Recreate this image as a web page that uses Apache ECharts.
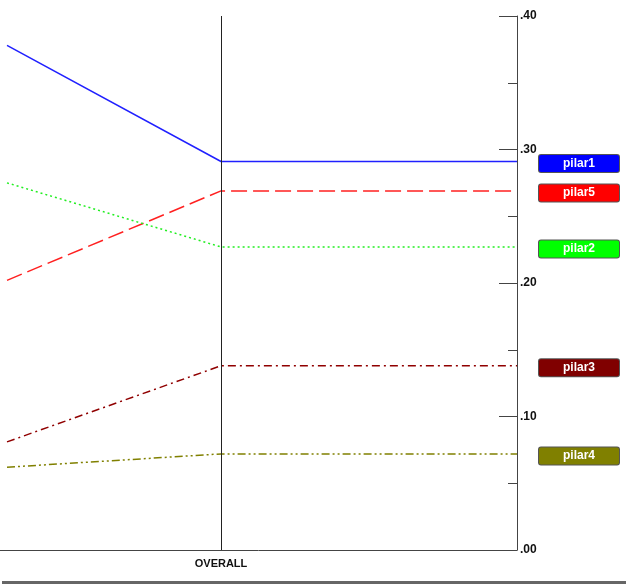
<!DOCTYPE html>
<html>
<head>
<meta charset="utf-8">
<script src="https://cdn.jsdelivr.net/npm/echarts@6/dist/echarts.min.js"></script>
<style>html,body{margin:0;padding:0;background:#fff}#c{width:629px;height:584px}</style>
</head>
<body>
<div id="c"></div>
<script>
const seriesNames = ['pilar1', 'pilar5', 'pilar2', 'pilar3', 'pilar4'];
const startValues = [0.378, 0.202, 0.275, 0.081, 0.062];
const overallValues = [0.291, 0.269, 0.227, 0.138, 0.072];
const stageX = [0, 1, 2.383];          // previous stage, OVERALL, right edge
const stageLabels = ['', 'OVERALL', ''];

const colors = ['#2020ff', '#ff2020', '#22ee22', '#900000', '#808000'];
const boxColors = ['#0000ff', '#ff0000', '#00ff00', '#800000', '#808000'];
const dashes = [null, [16, 6], [2, 3], [8, 4, 2, 4], [8, 3, 2, 3, 2, 3]];

const series = seriesNames.map((name, i) => ({
  name: name,
  type: 'line',
  symbol: 'none',
  silent: true,
  clip: false,
  animation: false,
  itemStyle: { color: colors[i] },
  lineStyle: { color: colors[i], width: 1.5, type: dashes[i] || 'solid' },
  endLabel: {
    show: true,
    distance: 62,
    offset: [0, 2],
    formatter: name,
    width: 80,
    height: 17,
    lineHeight: 17,
    align: 'center',
    verticalAlign: 'middle',
    backgroundColor: boxColors[i],
    borderColor: '#555',
    borderWidth: 1,
    borderRadius: 2,
    color: '#fff',
    fontFamily: 'Liberation Sans Narrow, Arial, sans-serif',
    fontWeight: 'bold',
    fontSize: 12
  },
  data: [
    [stageX[0], startValues[i]],
    [stageX[1], overallValues[i]],
    [stageX[2], overallValues[i]]
  ]
}));

series.push({
  name: 'overallLine',
  type: 'line',
  silent: true,
  data: [],
  markLine: {
    silent: true,
    symbol: 'none',
    animation: false,
    label: { show: false },
    lineStyle: { color: '#222', width: 1, type: 'solid' },
    data: [{ xAxis: stageX[1] }]
  }
});

const chart = echarts.init(document.getElementById('c'), null, { renderer: 'canvas' });
chart.setOption({
  animation: false,
  backgroundColor: '#fff',
  grid: { left: 0, right: 112, top: 16, bottom: 34 },
  xAxis: {
    type: 'value',
    min: -0.0327,
    max: stageX[2],
    splitLine: { show: false },
    axisLine: { show: true, onZero: false, lineStyle: { color: '#444', width: 1 } },
    axisTick: { show: false },
    axisLabel: {
      show: true,
      customValues: [stageX[1]],
      formatter: (v) => stageLabels[stageX.indexOf(v)] || '',
      margin: 8,
      color: '#111',
      fontWeight: 'bold',
      fontSize: 11,
      fontFamily: 'Liberation Sans Narrow, Arial, sans-serif'
    }
  },
  yAxis: {
    type: 'value',
    position: 'right',
    min: 0,
    max: 0.4,
    interval: 0.1,
    splitLine: { show: false },
    axisLine: { show: true, onZero: false, lineStyle: { color: '#444', width: 1 } },
    axisTick: { show: true, inside: true, length: 18, lineStyle: { color: '#444' } },
    minorTick: { show: true, splitNumber: 2, length: 9, lineStyle: { color: '#444' } },
    axisLabel: {
      inside: false,
      margin: 3,
      color: '#111',
      fontWeight: 'bold',
      fontSize: 12,
      fontFamily: 'Liberation Sans Narrow, Arial, sans-serif',
      formatter: (v) => '.' + String(Math.round(v * 100)).padStart(2, '0')
    }
  },
  graphic: [
    { type: 'rect', left: 2, top: 581, shape: { width: 624, height: 3 }, style: { fill: '#666' }, silent: true }
  ],
  series: series
});
</script>
</body>
</html>
